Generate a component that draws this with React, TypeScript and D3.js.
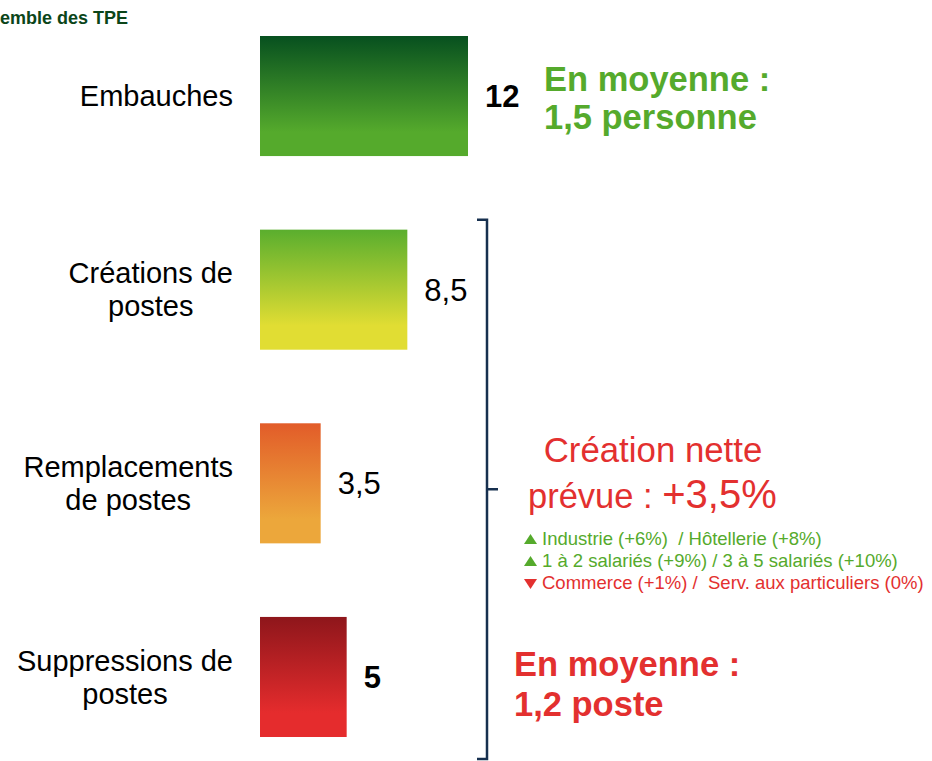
import React, { useEffect, useRef } from 'react'
import * as d3 from 'd3'

// Data
const categories = [
  ['Embauches'],
  ['Créations de', 'postes'],
  ['Remplacements', 'de postes'],
  ['Suppressions de', 'postes'],
]
const values = [12, 8.5, 3.5, 5]
const boldValue = [true, false, false, true]
const title = 'Ensemble des TPE'
const greenNote = ['En moyenne :', '1,5 personne']
const redNote = ['En moyenne :', '1,2 poste']
const netLine1 = 'Création nette'
const netLine2a = 'prévue : '
const netLine2b = '+3,5%'
const details = [
  { up: true, text: 'Industrie (+6%)  / Hôtellerie (+8%)' },
  { up: true, text: '1 à 2 salariés (+9%) / 3 à 5 salariés (+10%)' },
  { up: false, text: 'Commerce (+1%) /  Serv. aux particuliers (0%)' },
]

const gradients = [
  ['#07501f', '#55aa2c'],
  ['#5aae2e', '#e1dd33'],
  ['#e25c29', '#eca73b'],
  ['#8e161b', '#e52c2d'],
]

const GREEN = '#55aa2c'
const RED = '#e3302f'
const NAVY = '#17304f'
const FONT = '"Liberation Sans", Arial, sans-serif'

const frLocale = d3.formatLocale({ decimal: ',', thousands: ' ', grouping: [3], currency: ['', ' €'] })
const fmt = frLocale.format('~r')

export default function App() {
  const svgRef = useRef<SVGSVGElement>(null)
  const width = 932
  const height = 761

  useEffect(() => {
    const svg = d3.select(svgRef.current)
    svg.selectAll('*').remove()

    const x = d3.scaleLinear().domain([0, 12]).range([260, 468])
    const y = d3.scaleBand<number>()
      .domain(d3.range(values.length))
      .range([36, 737])
      .paddingInner(0.38)
      .paddingOuter(0)

    const defs = svg.append('defs')
    gradients.forEach((g, i) => {
      const lg = defs.append('linearGradient')
        .attr('id', `grad${i}`)
        .attr('x1', 0).attr('y1', 0).attr('x2', 0).attr('y2', 1)
      lg.append('stop').attr('offset', '0%').attr('stop-color', g[0])
      lg.append('stop').attr('offset', '80%').attr('stop-color', g[1])
      lg.append('stop').attr('offset', '100%').attr('stop-color', g[1])
    })

    svg.append('text')
      .attr('x', -33)
      .attr('y', 24)
      .style('font-family', FONT)
      .style('font-size', '18px')
      .style('font-weight', 'bold')
      .style('fill', '#0b4519')
      .text(title)

    // bars
    svg.selectAll('.bar')
      .data(values)
      .enter().append('rect')
      .attr('class', 'bar')
      .attr('x', x(0))
      .attr('y', (d, i) => y(i)!)
      .attr('width', d => x(d) - x(0))
      .attr('height', y.bandwidth())
      .attr('fill', (d, i) => `url(#grad${i})`)

    // value labels
    svg.selectAll('.val')
      .data(values)
      .enter().append('text')
      .attr('class', 'val')
      .attr('x', d => x(d) + 17)
      .attr('y', (d, i) => y(i)! + y.bandwidth() / 2)
      .attr('dy', '0.35em')
      .style('font-family', FONT)
      .style('font-size', '31px')
      .style('font-weight', (d, i) => (boldValue[i] ? 'bold' : 'normal'))
      .style('fill', '#000')
      .text(d => fmt(d))

    // category labels: centred lines, block right-aligned at x=233
    categories.forEach((lines, i) => {
      const cy = y(i)! + y.bandwidth() / 2
      const lh = 33
      const g = svg.append('g')
      const texts = lines.map((line, j) =>
        g.append('text')
          .attr('y', cy + (j - (lines.length - 1) / 2) * lh)
          .attr('dy', '0.35em')
          .style('font-family', FONT)
          .style('font-size', '29px')
          .style('text-anchor', 'middle')
          .style('fill', '#000')
          .text(line)
      )
      const maxW = d3.max(texts, t => (t.node() as SVGTextElement).getComputedTextLength()) || 0
      texts.forEach(t => t.attr('x', 233 - maxW / 2))
    })

    // bracket
    const top = y(1)! - 10
    const bottom = 759
    const mid = (top + bottom) / 2
    const bx = 487
    svg.append('path')
      .attr('d', `M${bx - 10},${top} H${bx} V${bottom} H${bx - 10} M${bx},${mid} H${bx + 11}`)
      .attr('fill', 'none')
      .attr('stroke', NAVY)
      .attr('stroke-width', 2.5)

    // green note
    svg.selectAll('.gnote')
      .data(greenNote)
      .enter().append('text')
      .attr('x', 544)
      .attr('y', (d, i) => 91 + i * 38)
      .style('font-family', FONT)
      .style('font-size', '34.5px')
      .style('font-weight', 'bold')
      .style('fill', GREEN)
      .text(d => d)

    // red note
    svg.selectAll('.rnote')
      .data(redNote)
      .enter().append('text')
      .attr('x', 514)
      .attr('y', (d, i) => 676 + i * 40)
      .style('font-family', FONT)
      .style('font-size', '34.5px')
      .style('font-weight', 'bold')
      .style('fill', RED)
      .text(d => d)

    // net creation
    svg.append('text')
      .attr('x', 653)
      .attr('y', 462)
      .style('font-family', FONT)
      .style('font-size', '34.8px')
      .style('text-anchor', 'middle')
      .style('fill', RED)
      .text(netLine1)

    const t2 = svg.append('text')
      .attr('x', 528)
      .attr('y', 508)
      .style('font-family', FONT)
      .style('fill', RED)
    t2.append('tspan').style('font-size', '34.5px').text(netLine2a)
    t2.append('tspan').style('font-size', '40px').text(netLine2b)

    // details
    const det = svg.selectAll('.det')
      .data(details)
      .enter().append('g')
      .attr('class', 'det')
      .attr('transform', (d, i) => `translate(524, ${545 + i * 22})`)

    det.append('path')
      .attr('d', d => (d.up ? 'M6.5,-11 L13,-1 L0,-1 Z' : 'M0,-10 L13,-10 L6.5,0 Z'))
      .attr('fill', d => (d.up ? GREEN : RED))

    det.append('text')
      .attr('x', 18)
      .style('font-family', FONT)
      .style('font-size', '18.5px')
      .style('white-space', 'pre')
      .style('fill', d => (d.up ? GREEN : RED))
      .text(d => d.text)
  }, [])

  return (
    <svg
      ref={svgRef}
      width={width}
      height={height}
      style={{ position: 'absolute', left: 0, top: 0, background: '#fff' }}
    />
  )
}
